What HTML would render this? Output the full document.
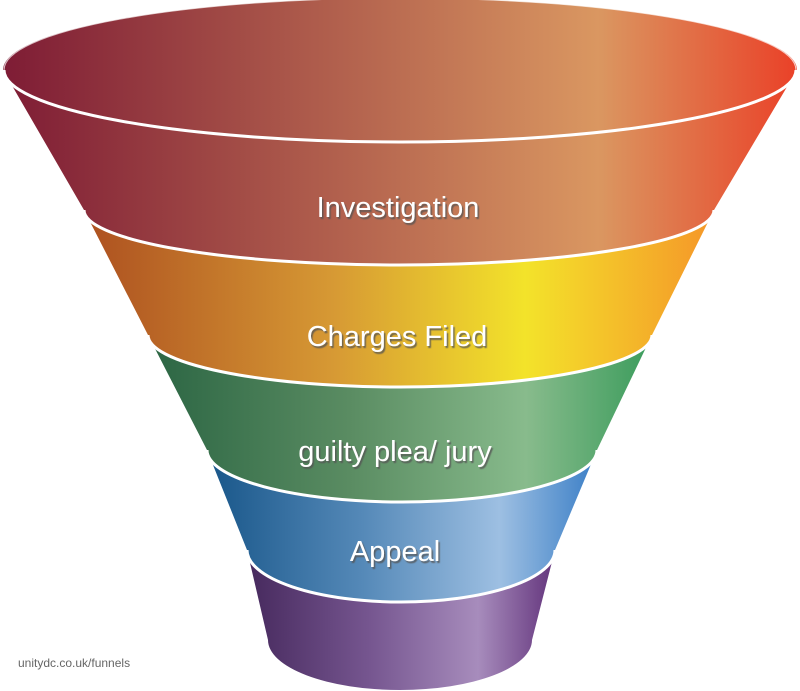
<!DOCTYPE html>
<html><head><style>
html,body{margin:0;padding:0;background:#fff;width:800px;height:691px;overflow:hidden}
text{font-family:"Liberation Sans",sans-serif}
</style></head><body>
<svg width="800" height="691" viewBox="0 0 800 691" xmlns="http://www.w3.org/2000/svg">
<defs>
<linearGradient id="g1" x1="0" x2="1"><stop offset="0" stop-color="#7e1c35"/><stop offset=".45" stop-color="#b5654f"/><stop offset=".75" stop-color="#da9761"/><stop offset="1" stop-color="#ea4128"/></linearGradient>
<linearGradient id="g2" x1="0" x2="1"><stop offset="0" stop-color="#ad5020"/><stop offset=".4" stop-color="#d79a34"/><stop offset=".7" stop-color="#f3e32a"/><stop offset="1" stop-color="#f59629"/></linearGradient>
<linearGradient id="g3" x1="0" x2="1"><stop offset="0" stop-color="#2b6543"/><stop offset=".4" stop-color="#5a8c62"/><stop offset=".75" stop-color="#88bb8c"/><stop offset="1" stop-color="#3b9c5c"/></linearGradient>
<linearGradient id="g4" x1="0" x2="1"><stop offset="0" stop-color="#185689"/><stop offset=".4" stop-color="#5589b8"/><stop offset=".75" stop-color="#9dbfe2"/><stop offset="1" stop-color="#3a7ec6"/></linearGradient>
<linearGradient id="g5" x1="0" x2="1"><stop offset="0" stop-color="#46295d"/><stop offset=".4" stop-color="#765690"/><stop offset=".75" stop-color="#a78cbc"/><stop offset="1" stop-color="#63347c"/></linearGradient>
<filter id="sh"><feDropShadow dx="1.5" dy="2" stdDeviation="0.6" flood-color="#555" flood-opacity=".8"/></filter>
</defs>
<!-- purple -->
<path d="M247,550 L268,640 A132,50 0 0 0 532,640 L555,550 Z" fill="url(#g5)"/>
<!-- blue -->
<path d="M207,450 L247,550 A154,52 0 0 0 555,550 L597,450 Z" fill="url(#g4)"/>
<!-- green -->
<path d="M148,335 L207,450 A195,52 0 0 0 597,450 L652,335 Z" fill="url(#g3)"/>
<!-- charges -->
<path d="M84,210 L148,335 A252,52 0 0 0 652,335 L714,210 Z" fill="url(#g2)"/>
<!-- top -->
<path d="M3,70 A397,72 0 0 1 797,70 L714,210 A315,55 0 0 1 84,210 Z" fill="url(#g1)"/>
<!-- separators -->
<g fill="none" stroke="#fff" stroke-width="3">
<path d="M4,70 A396,72 0 0 0 796,70"/>
<path d="M84,210 A315,55 0 0 0 714,210"/>
<path d="M148,335 A252,52 0 0 0 652,335"/>
<path d="M207,450 A195,52 0 0 0 597,450"/>
<path d="M247,550 A154,52 0 0 0 555,550"/>
</g>
<path d="M4,70 A396,72 0 0 1 796,70" fill="none" stroke="#fff" stroke-width="1.2" opacity=".7"/>
<g fill="#fff" font-size="29" text-anchor="middle" filter="url(#sh)">
<text x="398" y="217">Investigation</text>
<text x="397" y="346">Charges Filed</text>
<text x="395" y="461">guilty plea/ jury</text>
<text x="395" y="561">Appeal</text>
</g>
<text x="18" y="667" font-size="12" fill="#666">unitydc.co.uk/funnels</text>
</svg>
</body></html>
